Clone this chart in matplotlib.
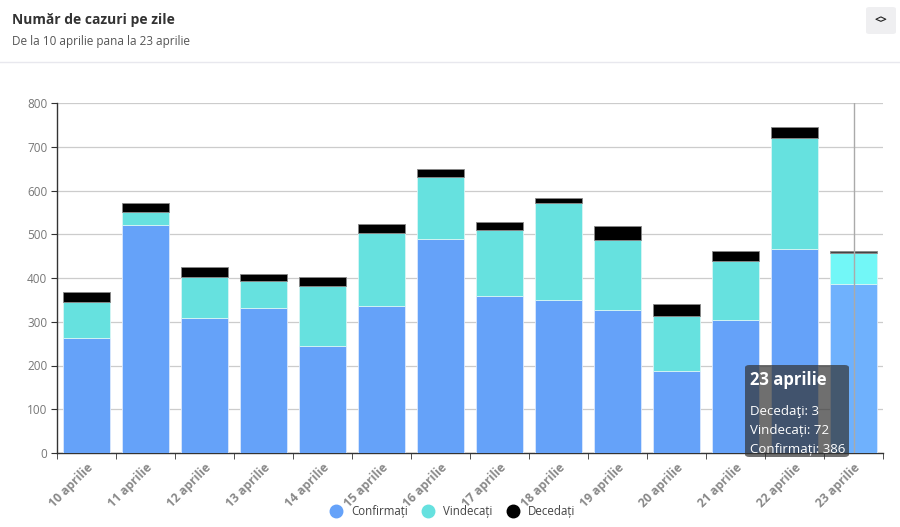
"""
Număr de cazuri pe zile - stacked bars, 10-23 aprilie.
"""

import numpy as np
import matplotlib
matplotlib.use("Agg")
import matplotlib.pyplot as plt
from matplotlib.patches import FancyBboxPatch
from matplotlib.lines import Line2D

plt.rcParams["font.family"] = ["Open Sans", "DejaVu Sans"]

DAYS = ["10 aprilie", "11 aprilie", "12 aprilie", "13 aprilie", "14 aprilie",
        "15 aprilie", "16 aprilie", "17 aprilie", "18 aprilie", "19 aprilie",
        "20 aprilie", "21 aprilie", "22 aprilie", "23 aprilie"]
CONFIRMATI = [264, 521, 309, 331, 245, 336, 489, 358, 349, 326, 188, 304, 466, 386]
VINDECATI = [82, 29, 93, 63, 136, 166, 141, 152, 222, 162, 125, 136, 253, 72]
DECEDATI = [22, 21, 24, 16, 21, 21, 20, 19, 12, 31, 27, 21, 27, 3]
Y_TICKS = [0, 100, 200, 300, 400, 500, 600, 700, 800]

COL_CONF = "#65a2f9"
COL_VIND = "#66e1df"
COL_DEC = "#000000"
# highlighted (hovered) bar
HL_CONF = "#6fb1fd"
HL_VIND = "#72f7f7"
HL_DEC = "#444444"
HOVER = 13

W, H = 900, 527
fig = plt.figure(figsize=(W / 100, H / 100), dpi=100)

# header
fig.text(12 / W, 1 - 20 / H, "Număr de cazuri pe zile", fontsize=10,
         fontweight="bold", color="#333333", va="center", ha="left")
fig.text(12 / W, 1 - 42 / H, "De la 10 aprilie pana la 23 aprilie", fontsize=8.5,
         color="#555555", va="center", ha="left")
fig.add_artist(Line2D([0, 1], [1 - 62 / H, 1 - 62 / H], color="#e8e8ee", lw=1))
btn = FancyBboxPatch((866 / W, 1 - 34 / H), 30 / W, 27 / H,
                     boxstyle="round,pad=0,rounding_size=0.004",
                     transform=fig.transFigure, facecolor="#efeff1",
                     edgecolor="none")
fig.add_artist(btn)
fig.text(881 / W, 1 - 20.5 / H, "<>", fontsize=8, fontweight="bold",
         color="#222222", ha="center", va="center")

ax = fig.add_axes([57 / W, 1 - 453 / H, 826 / W, 350 / H])
x = np.arange(len(DAYS))
conf = np.array(CONFIRMATI)
vind = np.array(VINDECATI)
dec = np.array(DECEDATI)

c_conf = [HL_CONF if i == HOVER else COL_CONF for i in x]
c_vind = [HL_VIND if i == HOVER else COL_VIND for i in x]
c_dec = [HL_DEC if i == HOVER else COL_DEC for i in x]

bw = 0.8
ax.bar(x, conf, bw, color=c_conf, edgecolor="#dbe8fd", linewidth=0.6, zorder=3)
ax.bar(x, vind, bw, bottom=conf, color=c_vind, edgecolor="#d8f6f5",
       linewidth=0.6, zorder=3)
ax.bar(x, dec, bw, bottom=conf + vind, color=c_dec, edgecolor="#888888",
       linewidth=0.6, zorder=3)

ax.set_xlim(-0.5, len(DAYS) - 0.5)
ax.set_ylim(0, 800)
ax.set_yticks(Y_TICKS)
ax.set_yticklabels([str(v) for v in Y_TICKS], fontsize=8.5, color="#777777")
ax.grid(axis="y", color="#cccccc", linewidth=0.9, zorder=0)
ax.tick_params(axis="y", length=4, color="#333333", pad=3)

ax.set_xticks(x)
ax.set_xticklabels(DAYS, rotation=45, ha="right", rotation_mode="anchor",
                   fontsize=8.7, fontweight="bold", color="#888888")
ax.tick_params(axis="x", which="major", length=0, pad=6)
ax.set_xticks(np.arange(-0.5, len(DAYS)), minor=True)
ax.tick_params(axis="x", which="minor", length=4, color="#333333")

for s in ["top", "right"]:
    ax.spines[s].set_visible(False)
for s in ["left", "bottom"]:
    ax.spines[s].set_color("#333333")
    ax.spines[s].set_linewidth(1)

# hover crosshair
ax.axvline(HOVER, color="#aaaaaa", linewidth=1, zorder=4)

# legend
handles = [Line2D([0], [0], marker="o", linestyle="none", markersize=9,
                  markerfacecolor=c, markeredgecolor=c)
           for c in (COL_CONF, COL_VIND, COL_DEC)]
fig.legend(handles, ["Confirmați", "Vindecați", "Decedați"], loc="center",
           bbox_to_anchor=(0.5, 1 - 512 / H), ncol=3, frameon=False,
           fontsize=8.3, handletextpad=0.3, columnspacing=0.8,
           labelcolor="#444444")

# tooltip
tip = FancyBboxPatch((745 / W, 1 - 457 / H), 104 / W, 92 / H,
                     boxstyle="round,pad=0,rounding_size=0.005",
                     transform=fig.transFigure, facecolor=(50 / 255, 50 / 255, 50 / 255, 0.7),
                     edgecolor="none", zorder=10)
fig.add_artist(tip)
fig.text(750 / W, 1 - 380 / H, DAYS[HOVER], fontsize=12, fontweight="bold",
         color="white", va="center", ha="left", zorder=11)
tip_lines = [f"Decedaţi: {DECEDATI[HOVER]}", f"Vindecați: {VINDECATI[HOVER]}",
             f"Confirmați: {CONFIRMATI[HOVER]}"]
for k, line in enumerate(tip_lines):
    fig.text(750 / W, 1 - (411 + 19.5 * k) / H, line, fontsize=9.5,
             color="white", va="center", ha="left", zorder=11)

fig.savefig("out.png", dpi=100)
